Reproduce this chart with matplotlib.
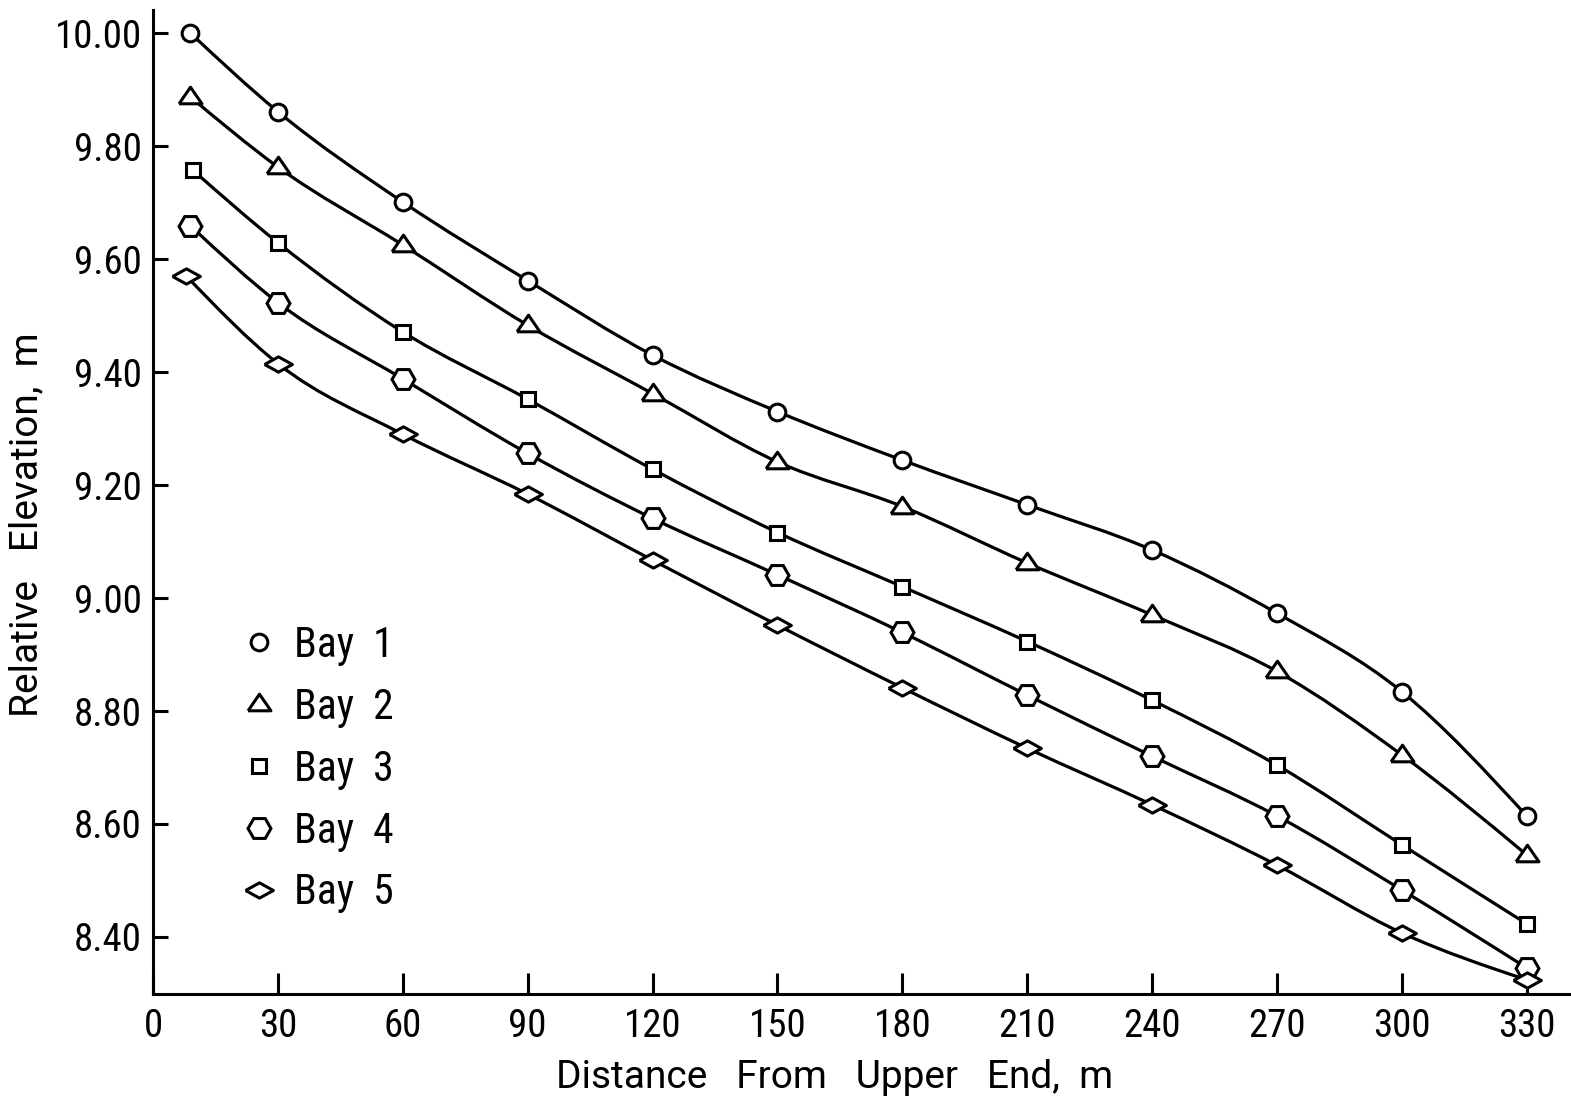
import numpy as np
import matplotlib.pyplot as plt
from matplotlib.path import Path
from matplotlib.patches import PathPatch
from matplotlib.lines import Line2D

plt.rcParams['font.family'] = ['Roboto Condensed', 'Roboto', 'DejaVu Sans']

# stations along the border (m); the first station of each bay sits a little past 0
stations = [30, 60, 90, 120, 150, 180, 210, 240, 270, 300, 330]
first_station = [9, 9, 9.5, 9, 8]

bay1 = [10.00, 9.861, 9.701, 9.562, 9.430, 9.330, 9.244, 9.165, 9.085, 8.973, 8.834, 8.614]
bay2 = [9.887, 9.763, 9.625, 9.483, 9.362, 9.241, 9.162, 9.062, 8.970, 8.870, 8.722, 8.545]
bay3 = [9.758, 9.629, 9.471, 9.352, 9.228, 9.116, 9.020, 8.923, 8.819, 8.704, 8.563, 8.423]
bay4 = [9.659, 9.523, 9.388, 9.256, 9.141, 9.041, 8.939, 8.828, 8.720, 8.614, 8.483, 8.345]
bay5 = [9.570, 9.415, 9.290, 9.184, 9.067, 8.952, 8.841, 8.734, 8.634, 8.527, 8.407, 8.324]

labels = ['Bay  1', 'Bay  2', 'Bay  3', 'Bay  4', 'Bay  5']
yticks = [8.40, 8.60, 8.80, 9.00, 9.20, 9.40, 9.60, 9.80, 10.00]
xticks = [0, 30, 60, 90, 120, 150, 180, 210, 240, 270, 300, 330]

# hand-drawn style marker shapes
diamond = [(-1, 0), (0, 0.55), (1, 0), (0, -0.55), (-1, 0)]
triangle = [(-1, -0.55), (1, -0.55), (0, 0.9), (-1, -0.55)]
markers = [('o', 12), (triangle, 16.5), ('s', 10.5), ('H', 16.5), (diamond, 20)]


def smooth_path(x, y):
    # piecewise cubic Hermite through the points, as a Bezier path
    x = np.asarray(x, float)
    y = np.asarray(y, float)
    h = np.diff(x)
    d = np.diff(y) / h
    m = np.empty_like(y)
    m[1:-1] = (d[:-1] * h[1:] + d[1:] * h[:-1]) / (h[:-1] + h[1:])
    m[0] = 1.5 * d[0] - 0.5 * m[1]
    m[-1] = 1.5 * d[-1] - 0.5 * m[-2]
    verts = [(x[0], y[0])]
    codes = [Path.MOVETO]
    for i in range(len(h)):
        verts += [(x[i] + h[i] / 3, y[i] + m[i] * h[i] / 3),
                  (x[i + 1] - h[i] / 3, y[i + 1] - m[i + 1] * h[i] / 3),
                  (x[i + 1], y[i + 1])]
        codes += [Path.CURVE4] * 3
    return Path(verts, codes)


fig = plt.figure(figsize=(15.71, 11.05), dpi=100)
ax = fig.add_axes([153 / 1571, 111 / 1105, 1418 / 1571, 984 / 1105])

handles = []
for start, bay, (mk, ms) in zip(first_station, [bay1, bay2, bay3, bay4, bay5], markers):
    x = [start] + stations
    ax.add_patch(PathPatch(smooth_path(x, bay), fill=False, lw=2.3, edgecolor='black', zorder=2))
    ax.plot(x, bay, ls='none', marker=mk, ms=ms, mfc='white', mec='black', mew=2.2, zorder=3)
    handles.append(Line2D([], [], ls='none', marker=mk, ms=ms, mfc='white', mec='black', mew=2.2))

ax.set_xlim(0, 340.6)
ax.set_ylim(8.299, 10.041)

for side in ['top', 'right']:
    ax.spines[side].set_visible(False)
for side in ['left', 'bottom']:
    ax.spines[side].set_linewidth(2.2)

ax.set_yticks(yticks)
ax.set_yticklabels(['%.2f' % v for v in yticks])
ax.set_xticks(xticks)
ax.set_xticklabels([str(v) for v in xticks])
ax.tick_params(axis='y', direction='in', length=11, width=2.2, labelsize=28, pad=8)
ax.tick_params(axis='x', direction='in', length=15, width=2.2, labelsize=28, pad=10)

ax.set_xlabel('Distance   From   Upper   End,  m', fontsize=28, family=['Roboto', 'DejaVu Sans'])
ax.xaxis.set_label_coords(0.481, -0.066)
ax.set_ylabel('Relative   Elevation,  m', fontsize=28, family=['Roboto', 'DejaVu Sans'])
ax.yaxis.set_label_coords(-0.076, 0.477)

ax.legend(handles, labels, loc='upper left', bbox_to_anchor=(0.06, 0.375), frameon=False,
          fontsize=30, handlelength=1.0, handletextpad=0.35, labelspacing=0.5,
          borderaxespad=0, borderpad=0)

fig.savefig('out.png', dpi=100)
